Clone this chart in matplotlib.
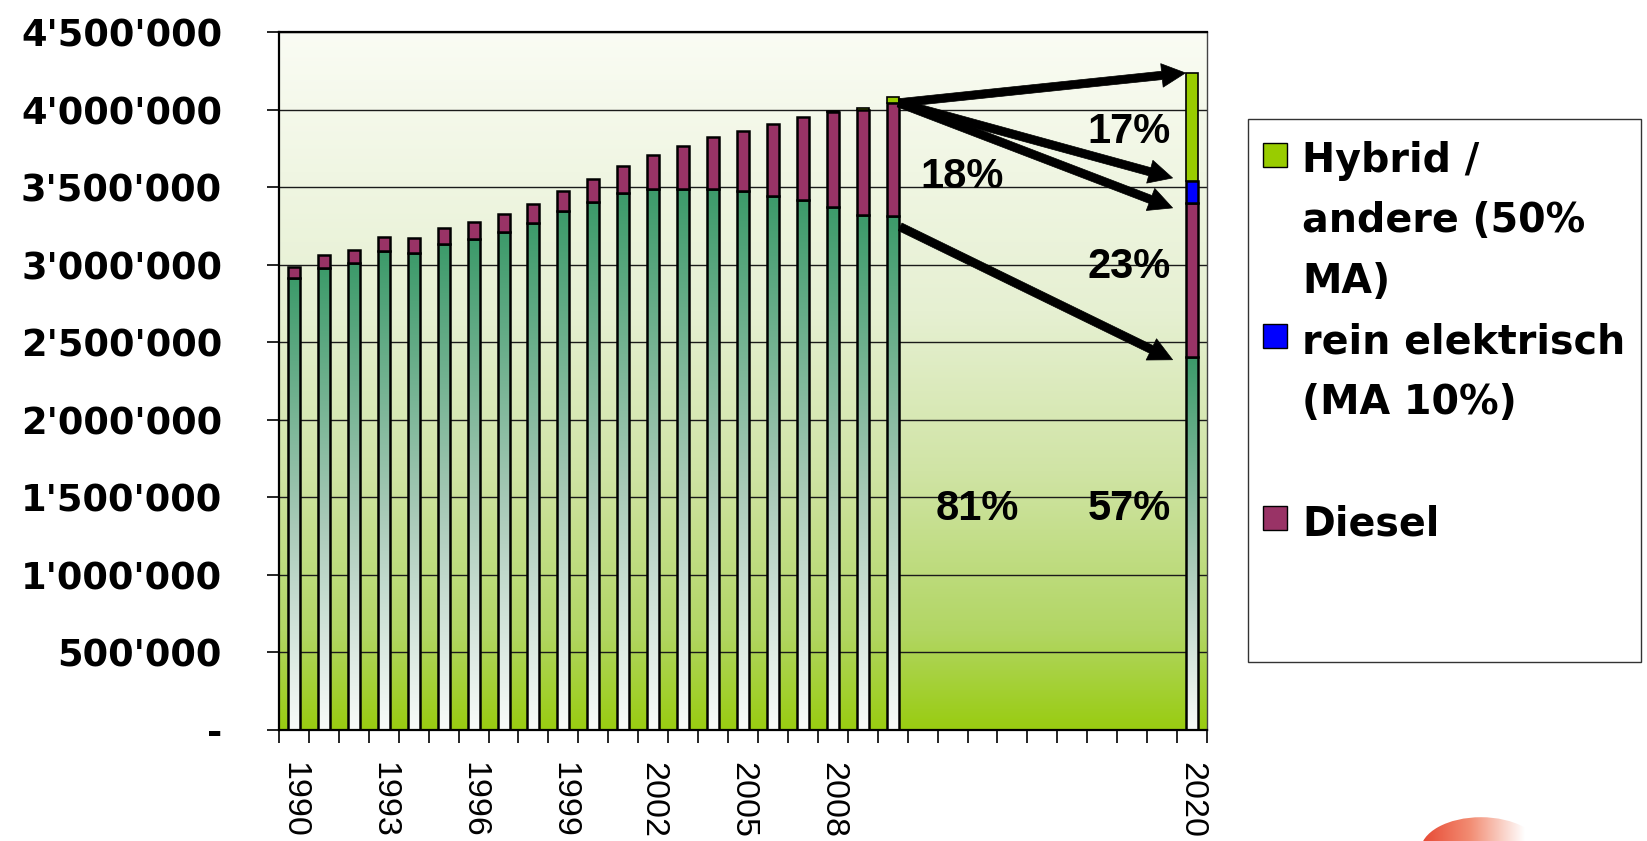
import numpy as np
import matplotlib
matplotlib.use('Agg')
import matplotlib.pyplot as plt
from matplotlib.colors import LinearSegmentedColormap
from matplotlib.patches import Rectangle, Ellipse
from matplotlib.ticker import FuncFormatter, FixedLocator

# ---------------- data ----------------
categories = [str(y) for y in range(1990, 2011)] + [''] * 9 + ['2020']
benzin = [2915000, 2979000, 3012000, 3089000, 3076000, 3134000, 3166000, 3211000,
          3269000, 3346000, 3404000, 3462000, 3488000, 3488000, 3488000, 3475000,
          3443000, 3417000, 3372000, 3320000, 3314000] + [None] * 9 + [2402000]
diesel = [71000, 84000, 83000, 90000, 96000, 103000, 109000, 116000,
          122000, 129000, 148000, 174000, 219000, 276000, 334000, 386000,
          463000, 534000, 613000, 674000, 729000] + [None] * 9 + [996000]
elektrisch = [0] * 21 + [None] * 9 + [143000]
hybrid = [0] * 18 + [5000, 15000, 39000] + [None] * 9 + [695000]

legend_labels = ["Hybrid /\nandere (50%\nMA)", "rein elektrisch\n(MA 10%)\n", "Diesel"]
legend_colors = ["#99cc00", "#0000ff", "#993366"]
pct_labels = ["17%", "18%", "23%", "81%", "57%"]
yticks = [0, 500000, 1000000, 1500000, 2000000, 2500000, 3000000, 3500000, 4000000, 4500000]

# ---------------- figure ----------------
W, H = 1647, 841
fig = plt.figure(figsize=(W / 100, H / 100), dpi=100)
fig.patch.set_facecolor('white')

def fx(x):
    return x / W

def fy(y):
    return 1 - y / H

ax_l, ax_r, ax_t, ax_b = 279, 1207, 32, 730
ax = fig.add_axes([fx(ax_l), fy(ax_b), (ax_r - ax_l) / W, (ax_b - ax_t) / H])

n = len(categories)
xs = np.arange(n)
bw = 0.4
ymax = 4500000

# background gradient of plot area
bg_cmap = LinearSegmentedColormap.from_list('bg', [
    (0.00, (153/255, 204/255, 17/255)),
    (0.14, (178/255, 214/255, 100/255)),
    (0.37, (208/255, 228/255, 165/255)),
    (0.60, (230/255, 240/255, 210/255)),
    (1.00, (250/255, 252/255, 244/255))])
grad = np.linspace(0, 1, 256).reshape(-1, 1)
ax.imshow(grad, extent=[-0.5, n - 0.5, 0, ymax], origin='lower', aspect='auto',
          cmap=bg_cmap, zorder=0, interpolation='bicubic')

# gridlines
for v in yticks[1:]:
    ax.axhline(v, color='#1a1a1a', lw=1.0, zorder=1)

# benzin bars with per-bar vertical gradient
bar_cmap = LinearSegmentedColormap.from_list('bar', [
    (0.0, (0.975, 0.985, 0.978)),
    (0.45, (0.66, 0.79, 0.72)),
    (1.0, (0.235, 0.605, 0.415))])
edge_kw = dict(edgecolor='black', linewidth=1.8)
valid = [i for i in range(n) if benzin[i] is not None]
for i in valid:
    b = benzin[i]
    rect = Rectangle((i - bw / 2, 0), bw, b, facecolor='none', zorder=3, **edge_kw)
    ax.add_patch(rect)
    im = ax.imshow(grad, extent=[i - bw / 2, i + bw / 2, 0, b], origin='lower',
                   aspect='auto', cmap=bar_cmap, zorder=2.5, interpolation='bicubic')
    im.set_clip_path(rect)

vi = np.array(valid)
b_arr = np.array([benzin[i] for i in valid], dtype=float)
d_arr = np.array([diesel[i] for i in valid], dtype=float)
e_arr = np.array([elektrisch[i] for i in valid], dtype=float)
h_arr = np.array([hybrid[i] for i in valid], dtype=float)

ax.bar(vi, d_arr, bw, bottom=b_arr, color='#993366', zorder=3, **edge_kw)
m = e_arr > 0
ax.bar(vi[m], e_arr[m], bw, bottom=(b_arr + d_arr)[m], color='#0000ff', zorder=3, **edge_kw)
m = h_arr > 0
ax.bar(vi[m], h_arr[m], bw, bottom=(b_arr + d_arr + e_arr)[m], color='#99cc00', zorder=3,
       edgecolor='black', linewidth=1.2)

ax.set_xlim(-0.5, n - 0.5)
ax.set_ylim(0, ymax)

# axes styling
for s in ['left', 'bottom', 'top']:
    ax.spines[s].set_color('black')
    ax.spines[s].set_linewidth(1.6)
ax.spines['right'].set_color('#444444')
ax.spines['right'].set_linewidth(1.0)

ax.yaxis.set_major_locator(FixedLocator(yticks))
ax.yaxis.set_major_formatter(FuncFormatter(
    lambda v, p: '-' if v == 0 else f"{int(round(v)):,}".replace(',', "'")))
ax.tick_params(axis='y', direction='out', length=9, width=1.2, pad=32)
for t in ax.get_yticklabels():
    t.set_fontfamily('DejaVu Sans')
    t.set_fontweight('bold')
    t.set_fontsize(26.5)

ax.xaxis.set_major_locator(FixedLocator(np.arange(-0.5, n, 1.0)))
ax.xaxis.set_major_formatter(FuncFormatter(lambda v, p: ''))
lab_idx = list(range(0, n, 3))
ax.xaxis.set_minor_locator(FixedLocator(lab_idx))
ax.set_xticklabels([categories[i] for i in lab_idx], minor=True)
ax.tick_params(axis='x', which='major', direction='out', length=9, width=1.2)
ax.tick_params(axis='x', which='minor', length=0, pad=23)
for t in ax.get_xticklabels(minor=True):
    t.set_rotation(270)
    t.set_fontfamily('Liberation Sans')
    t.set_fontsize(24.5)

# arrows (from 2010 bar to 2020 bar segments)
i10, i20 = 20, 30
top10 = benzin[i10] + diesel[i10]
tot20 = benzin[i20] + diesel[i20] + elektrisch[i20] + hybrid[i20]
arrow_style = 'simple,head_length=1.7,head_width=1.7,tail_width=0.6'
arrows = [
    ((i10 + bw / 2, top10), (i20 - bw / 2 - 0.02, tot20)),
    ((i10 + bw / 2, top10), (i20 - bw / 2 - 0.45, benzin[i20] + diesel[i20] + elektrisch[i20] + 18000)),
    ((i10 + bw / 2, top10), (i20 - bw / 2 - 0.45, benzin[i20] + diesel[i20] - 32000)),
    ((i10 + bw / 2 + 0.05, benzin[i10] - 70000), (i20 - bw / 2 - 0.45, benzin[i20] - 15000)),
]
for (sx, sy), (tx, ty) in arrows:
    ax.annotate('', xy=(tx, ty), xytext=(sx, sy),
                arrowprops=dict(arrowstyle=arrow_style, fc='black', ec='black',
                                lw=0.5, shrinkA=0, shrinkB=0), zorder=5)

# percentage labels
pct_pos = [(27.9, 3855000), (22.32, 3565000), (27.9, 2986000), (22.82, 1422000), (27.9, 1422000)]
for lab, (px, py) in zip(pct_labels, pct_pos):
    ax.text(px, py, lab, ha='center', va='center', fontsize=30, fontweight='bold',
            fontfamily='Liberation Sans', color='black', zorder=6)

# legend box (manual)
fig.patches.append(Rectangle((fx(1248), fy(662)), fx(1641) - fx(1248), fy(119) - fy(662),
                             transform=fig.transFigure, facecolor='white',
                             edgecolor='#333333', linewidth=1.0, zorder=1))
line_idx = 0
base0, pitch = 172, 60.5
for lab, col in zip(legend_labels, legend_colors):
    lines = lab.split('\n')
    first_base = base0 + pitch * line_idx
    cy = first_base - 17
    fig.patches.append(Rectangle((fx(1263), fy(cy + 12)), fx(1287) - fx(1263), fy(cy - 12) - fy(cy + 12),
                                 transform=fig.transFigure, facecolor=col,
                                 edgecolor='black', linewidth=1.0, zorder=2))
    for ln in lines:
        yb = base0 + pitch * line_idx
        if ln:
            fig.text(fx(1302), fy(yb), ln, ha='left', va='baseline', fontsize=28.5,
                     fontweight='bold', fontfamily='DejaVu Sans', color='black', zorder=3)
        line_idx += 1

# small logo fragment bottom right
lax = fig.add_axes([fx(1415), 0, fx(1525) - fx(1415), (841 - 813) / H])
lax.set_xlim(0, 1)
lax.set_ylim(0, 1)
lax.axis('off')
logo_cmap = LinearSegmentedColormap.from_list('logo', [(0.90, 0.25, 0.17), (0.95, 0.55, 0.45), (1, 1, 1)])
lim = lax.imshow(np.linspace(0, 1, 256).reshape(1, -1), extent=[0, 1, 0, 1], aspect='auto',
                 cmap=logo_cmap, zorder=1)
ell = Ellipse((0.6, -0.35), 1.1, 2.4, transform=lax.transData, facecolor='none', edgecolor='none')
lax.add_patch(ell)
lim.set_clip_path(ell)

fig.savefig('out.png', dpi=100, facecolor='white')
